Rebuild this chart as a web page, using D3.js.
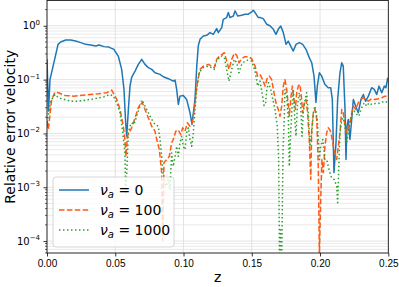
<!DOCTYPE html>
<html lang="en">
<head>
<meta charset="UTF-8">
<title>Relative error velocity</title>
<style>
  body { margin: 0; background: #fff; }
  svg { display: block; font-family: "DejaVu Sans", sans-serif; }
</style>
</head>
<body>
<svg id="chart" width="399" height="287"></svg>
<script src="https://cdnjs.cloudflare.com/ajax/libs/d3/7.8.5/d3.min.js"></script>
<script>
// ---- data ----
const xTicks = [0, 0.05, 0.10, 0.15, 0.20, 0.25];
const yTicks = [1e-4, 1e-3, 1e-2, 1e-1, 1];
const seriesNames = ["0", "100", "1000"];

// nu_a = 0
const zBlue = [0,0.0011,0.0022,0.0039,0.0056,0.0081,0.010,0.0137,0.0174,0.021,0.0247,0.0283,0.032,0.0357,0.0381,0.0418,0.0454,0.0461,0.0491,0.0498,0.0522,0.0547,0.0564,0.0576,0.0584,0.0596,0.0608,0.062,0.0645,0.0669,0.0694,0.0718,0.0742,0.0767,0.0791,0.0828,0.0852,0.0889,0.0925,0.0938,0.095,0.0962,0.0974,0.0998,0.1023,0.1047,0.1062,0.1084,0.1097,0.1108,0.1121,0.1145,0.117,0.1194,0.1218,0.1243,0.1255,0.128,0.1291,0.1316,0.1328,0.134,0.1365,0.1377,0.1397,0.1426,0.145,0.1475,0.1499,0.1511,0.1524,0.1548,0.156,0.1584,0.1609,0.1633,0.1658,0.1677,0.1694,0.1712,0.1731,0.1751,0.1767,0.1785,0.1804,0.1824,0.1848,0.1873,0.1897,0.1921,0.1939,0.1956,0.197,0.198,0.1995,0.2012,0.2036,0.206,0.2078,0.209,0.2102,0.2117,0.2129,0.2146,0.2159,0.217,0.2183,0.219,0.2197,0.2207,0.2219,0.2232,0.2244,0.2261,0.228,0.23,0.2317,0.2334,0.2354,0.2378,0.2397,0.2415,0.2432,0.2452,0.2471,0.2483,0.2496];
const errBlue = [0.24,0.026,0.10,0.155,0.238,0.452,0.50,0.544,0.544,0.52,0.487,0.452,0.439,0.42,0.439,0.41,0.403,0.393,0.365,0.339,0.274,0.155,0.0657,0.016,0.0089,0.0279,0.0757,0.11,0.144,0.192,0.238,0.192,0.167,0.155,0.134,0.125,0.113,0.104,0.0938,0.098,0.0657,0.0345,0.0493,0.0508,0.0428,0.0245,0.0147,0.0428,0.178,0.42,0.56,0.646,0.665,0.747,0.694,0.887,0.747,0.926,1.32,1.42,1.76,1.42,1.52,1.89,1.52,1.57,1.64,1.64,1.81,1.94,1.76,1.42,1.42,1.36,1.07,1.0,0.86,0.694,0.86,0.99,0.747,0.452,0.52,0.42,0.339,0.452,0.487,0.452,0.365,0.256,0.206,0.116,0.0376,0.0757,0.134,0.116,0.0814,0.0707,0.0707,0.0428,0.00187,0.00677,0.0428,0.134,0.206,0.178,0.0279,0.00327,0.0136,0.0182,0.0077,0.0182,0.0428,0.0321,0.0242,0.0428,0.053,0.0397,0.0493,0.0707,0.0657,0.053,0.0757,0.057,0.0757,0.0707,0.1085];

// nu_a = 100
const zOrange = [0.0002,0.001,0.0034,0.0059,0.0083,0.0132,0.0193,0.0242,0.0315,0.0376,0.0437,0.0474,0.0498,0.0511,0.0535,0.0559,0.0571,0.0579,0.0588,0.0603,0.062,0.0645,0.0669,0.0694,0.0718,0.0742,0.0767,0.0791,0.0804,0.0823,0.084,0.0847,0.0857,0.0877,0.0896,0.0913,0.0925,0.0943,0.0962,0.0979,0.0994,0.1011,0.1028,0.1047,0.1064,0.1079,0.1097,0.1121,0.1145,0.1182,0.1206,0.1225,0.1243,0.1267,0.1284,0.1299,0.1316,0.1333,0.1353,0.1372,0.139,0.1406,0.1426,0.145,0.1475,0.1499,0.1524,0.1543,0.156,0.158,0.1597,0.1614,0.1628,0.1646,0.1658,0.1677,0.1694,0.1707,0.1719,0.1731,0.1743,0.1756,0.1768,0.1775,0.1785,0.1797,0.1809,0.1819,0.1829,0.1841,0.1853,0.1863,0.1873,0.1885,0.1897,0.1909,0.1921,0.1932,0.1939,0.1951,0.1963,0.1976,0.1987,0.1995,0.2005,0.2014,0.2024,0.2036,0.2049,0.206,0.2073,0.2085,0.2097,0.211,0.2122,0.2134,0.2146,0.2159,0.217,0.2183,0.2195,0.2207,0.2219,0.2232,0.2244,0.2261,0.228,0.23,0.2317,0.2334,0.2354,0.2378,0.2403,0.2427,0.2452,0.2476,0.2496];
const errOrange = [0.016,0.0118,0.0428,0.0585,0.057,0.0508,0.0493,0.0508,0.053,0.0546,0.057,0.0637,0.0493,0.0428,0.0279,0.0136,0.0077,0.00376,0.0089,0.0103,0.0127,0.0195,0.03,0.0397,0.0279,0.0195,0.0136,0.011,0.0077,0.005,0.00187,0.0001,0.00287,0.00327,0.00376,0.00668,0.0077,0.011,0.0116,0.0095,0.0127,0.011,0.0158,0.0136,0.0158,0.0279,0.0757,0.155,0.178,0.192,0.178,0.167,0.238,0.282,0.294,0.317,0.221,0.155,0.238,0.308,0.282,0.206,0.245,0.267,0.267,0.245,0.178,0.116,0.125,0.1,0.0757,0.108,0.116,0.1,0.0657,0.0371,0.0279,0.0209,0.0321,0.0757,0.1,0.0657,0.0321,0.0209,0.0428,0.0757,0.0428,0.0279,0.057,0.0757,0.0814,0.0493,0.0242,0.0371,0.0428,0.0242,0.0077,0.00139,0.0116,0.0242,0.0279,0.0182,0.00245,0.000056,0.000588,0.00327,0.00187,0.00578,0.0104,0.0127,0.0116,0.0089,0.00578,0.00435,0.00327,0.00578,0.0104,0.0279,0.0242,0.0136,0.0103,0.0136,0.0158,0.0242,0.0321,0.0279,0.0371,0.0428,0.046,0.0428,0.0397,0.0441,0.0428,0.0441,0.046,0.0493,0.048];

// nu_a = 1000
const zGreen = [0.0002,0.0027,0.0059,0.0083,0.0125,0.0174,0.0222,0.0271,0.032,0.0368,0.0418,0.0461,0.0486,0.0511,0.0535,0.0555,0.0571,0.0576,0.0584,0.0596,0.0608,0.062,0.0637,0.0657,0.0681,0.0701,0.0718,0.0742,0.0767,0.0791,0.0815,0.0828,0.084,0.0852,0.0872,0.0889,0.0901,0.0913,0.0925,0.0938,0.095,0.0962,0.0974,0.0987,0.0998,0.1011,0.1023,0.1035,0.1047,0.106,0.1072,0.1084,0.1097,0.1113,0.1145,0.1182,0.1206,0.1225,0.1243,0.1267,0.1284,0.1299,0.1316,0.1333,0.1353,0.1372,0.139,0.1406,0.1426,0.145,0.1475,0.1499,0.1524,0.1543,0.156,0.1577,0.159,0.1601,0.161,0.1622,0.1639,0.1654,0.167,0.1687,0.1697,0.1703,0.171,0.1719,0.1729,0.1738,0.1743,0.1756,0.1768,0.1775,0.1785,0.1795,0.1804,0.1814,0.1824,0.1834,0.1848,0.1858,0.1868,0.1877,0.189,0.1902,0.1914,0.1926,0.1939,0.1951,0.1963,0.198,0.1995,0.2005,0.202,0.2036,0.2049,0.206,0.2073,0.2085,0.2104,0.2122,0.2129,0.2139,0.2146,0.2159,0.217,0.2183,0.2195,0.2207,0.2219,0.2232,0.2251,0.2269,0.2285,0.2305,0.2324,0.2342,0.2359,0.2378,0.2403,0.2427,0.2452,0.2476,0.2496];
const errGreen = [0.016,0.04,0.053,0.046,0.043,0.0397,0.0397,0.041,0.043,0.045,0.048,0.053,0.0493,0.0371,0.0242,0.0103,0.00435,0.00079,0.00185,0.0103,0.0136,0.0158,0.0147,0.0209,0.0321,0.0397,0.0321,0.0242,0.0182,0.0147,0.0136,0.0077,0.00376,0.0016,0.00104,0.00139,0.0009,0.00435,0.00245,0.00376,0.00578,0.00376,0.00668,0.0089,0.00578,0.005,0.0103,0.0127,0.0077,0.00578,0.0103,0.0279,0.0657,0.134,0.167,0.178,0.167,0.155,0.221,0.267,0.274,0.256,0.155,0.0938,0.155,0.238,0.206,0.134,0.192,0.221,0.231,0.221,0.144,0.0757,0.0938,0.053,0.033,0.036,0.0657,0.0876,0.0657,0.0428,0.0279,0.0136,0.00327,0.000045,0.000162,0.000045,0.005,0.0182,0.0657,0.0493,0.0182,0.00245,0.0103,0.0321,0.0657,0.0209,0.0089,0.0321,0.057,0.0371,0.0089,0.0242,0.0428,0.057,0.0242,0.00578,0.0103,0.0242,0.0321,0.0182,0.00327,0.00578,0.0077,0.00327,0.00327,0.00245,0.00185,0.00149,0.00139,0.00104,0.000517,0.00327,0.0103,0.0182,0.0195,0.0136,0.00668,0.0103,0.0158,0.0225,0.0259,0.0225,0.0209,0.03,0.0371,0.0321,0.0371,0.0345,0.0359,0.0359,0.038,0.0397,0.0371];

// ---- layout ----
const svg = d3.select("#chart");
const plotL = 47, plotR = 388.3, plotT = 0.5, plotB = 253;

const x = d3.scaleLinear().domain([0, 0.25]).range([plotL, plotR]);
const y = d3.scaleLog().domain([6e-5, 2.95]).range([plotB, plotT]);

// grid
const minorY = [];
for (let e = -5; e <= 0; e++) for (let m = 2; m <= 9; m++) {
  const v = m * Math.pow(10, e);
  if (v > 6e-5 && v < 2.95) minorY.push(v);
}
const grid = svg.append("g");
grid.selectAll(".gm").data(minorY).join("line")
  .attr("x1", plotL).attr("x2", plotR)
  .attr("y1", d => y(d)).attr("y2", d => y(d))
  .attr("stroke", "#e4e4e4").attr("stroke-width", 0.8);
grid.selectAll(".gM").data(yTicks).join("line")
  .attr("x1", plotL).attr("x2", plotR)
  .attr("y1", d => y(d)).attr("y2", d => y(d))
  .attr("stroke", "#dcdcdc").attr("stroke-width", 0.8);
grid.selectAll(".gx").data(xTicks).join("line")
  .attr("x1", d => x(d)).attr("x2", d => x(d))
  .attr("y1", plotT).attr("y2", plotB)
  .attr("stroke", "#dcdcdc").attr("stroke-width", 0.8);

// lines
svg.append("clipPath").attr("id", "clip").append("rect")
  .attr("x", plotL).attr("y", plotT).attr("width", plotR - plotL).attr("height", plotB - plotT);

const line = d3.line().x(d => x(d[0])).y(d => y(d[1]));
const series = [
  { z: zBlue, v: errBlue, color: "#1f77b4", dash: null },
  { z: zOrange, v: errOrange, color: "#ff5a14", dash: "5.5,2.4" },
  { z: zGreen, v: errGreen, color: "#2ca02c", dash: "1.5,2.5" }
];
const plot = svg.append("g").attr("clip-path", "url(#clip)");
series.forEach(s => {
  plot.append("path")
    .datum(d3.zip(s.z, s.v))
    .attr("d", line)
    .attr("fill", "none")
    .attr("stroke", s.color)
    .attr("stroke-width", 1.5)
    .attr("stroke-linejoin", "round")
    .attr("stroke-dasharray", s.dash);
});

// axes
const xAxis = svg.append("g").attr("transform", `translate(0,${plotB})`)
  .call(d3.axisBottom(x).tickValues(xTicks).tickFormat(d3.format(".2f")).tickSizeOuter(0).tickSize(3.5).tickPadding(3.5));
xAxis.select(".domain").remove();
xAxis.selectAll("text").attr("font-size", 10).attr("fill", "#000");
xAxis.selectAll("line").attr("stroke", "#000").attr("stroke-width", 0.8);

const yAxis = svg.append("g").attr("transform", `translate(${plotL},0)`)
  .call(d3.axisLeft(y).tickValues(yTicks).tickFormat("").tickSizeOuter(0).tickSize(3.5));
yAxis.select(".domain").remove();
yAxis.selectAll("line").attr("stroke", "#000").attr("stroke-width", 0.8);

svg.append("g").selectAll("line").data(minorY).join("line")
  .attr("x1", plotL - 2).attr("x2", plotL)
  .attr("y1", d => y(d)).attr("y2", d => y(d))
  .attr("stroke", "#000").attr("stroke-width", 0.6);

yTicks.forEach(t => {
  const e = Math.round(Math.log10(t));
  const txt = svg.append("text")
    .attr("x", plotL - 7).attr("y", y(t) + 3.5)
    .attr("text-anchor", "end").attr("font-size", 10).attr("fill", "#000");
  txt.append("tspan").text("10");
  txt.append("tspan").attr("dy", -4.5).attr("font-size", 7).text(e < 0 ? "\u2212" + (-e) : String(e));
});

// frame
svg.append("rect").attr("x", plotL).attr("y", plotT)
  .attr("width", plotR - plotL).attr("height", plotB - plotT)
  .attr("fill", "none").attr("stroke", "#000").attr("stroke-width", 0.8);

// labels
svg.append("text").attr("x", (plotL + plotR) / 2).attr("y", 282)
  .attr("text-anchor", "middle").attr("font-size", 14).text("z");
svg.append("text")
  .attr("transform", `translate(15,${(plotT + plotB) / 2}) rotate(-90)`)
  .attr("text-anchor", "middle").attr("font-size", 14).text("Relative error velocity");

// legend
const lg = svg.append("g");
lg.append("rect").attr("x", 53).attr("y", 177).attr("width", 121).attr("height", 70)
  .attr("rx", 3).attr("fill", "#fff").attr("fill-opacity", 0.8)
  .attr("stroke", "#cccccc").attr("stroke-width", 0.8);
series.forEach((s, i) => {
  const cy = 190 + i * 20;
  lg.append("line").attr("x1", 59).attr("x2", 89).attr("y1", cy).attr("y2", cy)
    .attr("stroke", s.color).attr("stroke-width", 1.5).attr("stroke-dasharray", s.dash);
  const t = lg.append("text").attr("x", 100).attr("y", cy + 5).attr("font-size", 14).attr("fill", "#000");
  t.append("tspan").attr("font-style", "italic").text("\u03bd");
  t.append("tspan").attr("font-style", "italic").attr("font-size", 10).attr("dy", 3).text("a");
  t.append("tspan").attr("dy", -3).text(" = " + seriesNames[i]);
});
</script>
</body>
</html>
